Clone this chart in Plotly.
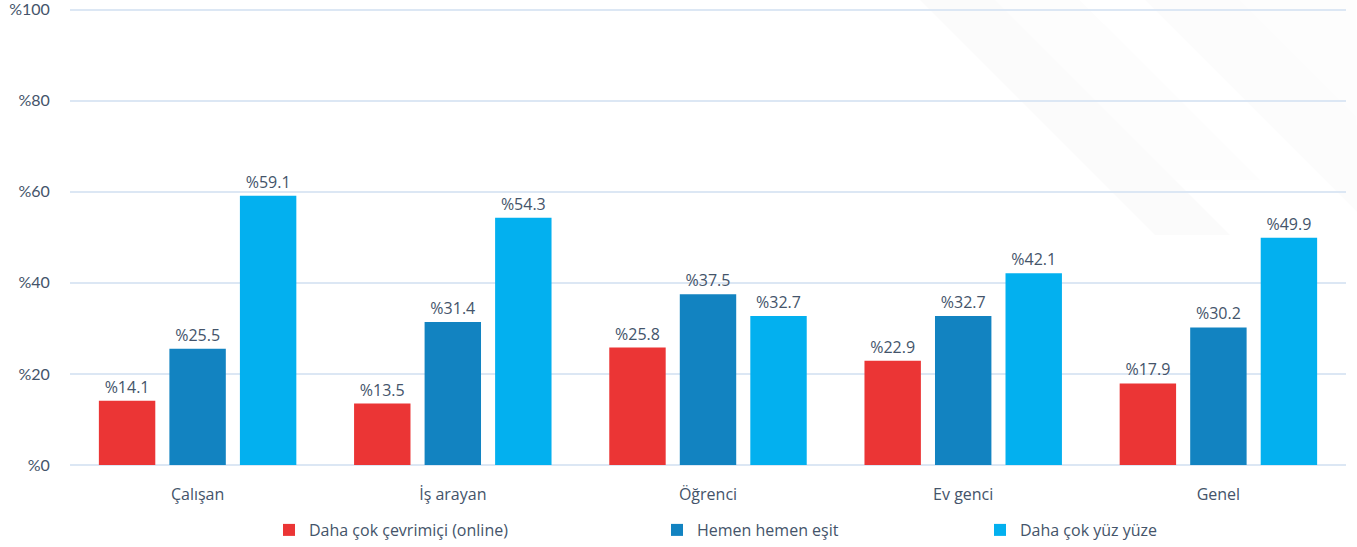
import plotly.graph_objects as go

categories = ["Çalışan", "İş arayan", "Öğrenci", "Ev genci", "Genel"]
online = [14.1, 13.5, 25.8, 22.9, 17.9]
esit = [25.5, 31.4, 37.5, 32.7, 30.2]
yuzyuze = [59.1, 54.3, 32.7, 42.1, 49.9]
series_names = ["Daha çok çevrimiçi (online)", "Hemen hemen eşit", "Daha çok yüz yüze"]
tick_vals = [0, 20, 40, 60, 80, 100]
tick_text = ["%0", "%20", "%40", "%60", "%80", "%100"]

colors = ["#EB3535", "#1283C1", "#03B0EF"]
text_color = "#44546A"

W, H = 1357, 547
L, R, T, B = 70, 11, 5, 82
pw, ph = W - L - R, H - T - B


def px(x):
    return (x - L) / pw


def py(y):
    return (H - B - y) / ph


fig = go.Figure()
legend_keys = ["legend", "legend2", "legend3"]
for vals, name, col, lg in zip([online, esit, yuzyuze], series_names, colors, legend_keys):
    fig.add_trace(go.Bar(
        x=categories, y=vals, name=name, legend=lg,
        marker=dict(color=col, line=dict(width=0)),
        text=[f"%{v:.1f}" for v in vals], textposition="outside",
        textfont=dict(family="Open Sans", size=16, color=text_color),
        cliponaxis=False,
    ))

# faint diagonal bands in the upper right background
bands = [
    ([(920, 0), (995, 0), (1230, 235), (1155, 235)], 0.016),
    ([(995, 0), (1080, 0), (1260, 180), (1175, 180)], 0.007),
    ([(1145, 0), (1240, 0), (1357, 117), (1357, 212)], 0.012),
    ([(1240, 0), (1357, 0), (1357, 117)], 0.006),
]
for pts, a in bands:
    path = "M " + " L ".join(f"{px(x):.4f},{py(y):.4f}" for x, y in pts) + " Z"
    fig.add_shape(type="path", path=path, xref="paper", yref="paper",
                  fillcolor=f"rgba(0,0,0,{a})", line=dict(width=0), layer="below")

legend_common = dict(
    orientation="h", font=dict(family="Open Sans", size=16, color=text_color),
    bgcolor="rgba(0,0,0,0)", yanchor="middle", xanchor="left",
    itemclick=False, itemdoubleclick=False,
)
fig.update_layout(
    width=W, height=H,
    margin=dict(l=L, r=R, t=T, b=B, autoexpand=False),
    paper_bgcolor="white", plot_bgcolor="rgba(0,0,0,0)",
    barmode="group", bargap=0.171, bargroupgap=0.2,
    showlegend=True,
    legend=dict(x=px(269), y=py(530), **legend_common),
    legend2=dict(x=px(657), y=py(530), **legend_common),
    legend3=dict(x=px(980), y=py(530), **legend_common),
    xaxis=dict(
        tickfont=dict(family="Open Sans", size=16, color=text_color),
        showgrid=False, showline=False,
        ticks="outside", ticklen=15, tickcolor="rgba(0,0,0,0)",
    ),
    yaxis=dict(
        range=[0, 101], tickvals=tick_vals, ticktext=tick_text,
        tickfont=dict(family="Lato", size=16, color=text_color),
        gridcolor="#DCE7F4", gridwidth=1.5, zeroline=True, zerolinecolor="#DCE7F4",
        zerolinewidth=1.5, showline=False,
        ticks="outside", ticklen=16, tickcolor="rgba(0,0,0,0)",
        automargin=False, ticklabeloverflow="allow",
    ),
)

fig.write_html("out.html")
